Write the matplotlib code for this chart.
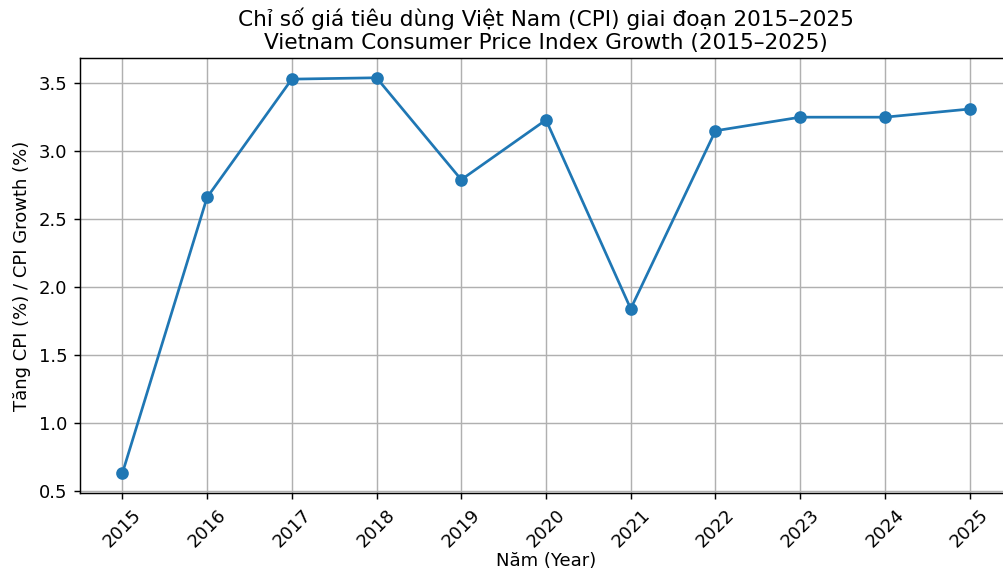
import numpy as np
import matplotlib.pyplot as plt

# CPI data
years = [2015, 2016, 2017, 2018, 2019, 2020, 2021, 2022, 2023, 2024, 2025]
cpi = [0.63, 2.66, 3.53, 3.54, 2.79, 3.23, 1.84, 3.15, 3.25, 3.25, 3.31]

# reference looks like a ~1.3x upscale of a default-styled figure
scale = 1.3
fig = plt.figure(figsize=(1004/100/scale, 573/100/scale), dpi=100*scale)
ax = fig.add_axes([80/1004, 1 - 493/573, 932/1004, 435/573])

ax.plot(years, cpi, marker='o', linestyle='-')
ax.set_title('Chỉ số giá tiêu dùng Việt Nam (CPI) giai đoạn 2015–2025\n'
             'Vietnam Consumer Price Index Growth (2015–2025)', pad=5)
ax.set_xlabel('Năm (Year)', labelpad=0.5)
ax.set_ylabel('Tăng CPI (%) / CPI Growth (%)')
ax.set_xticks(years)
ax.set_xticklabels([str(y) for y in years], rotation=45)
ax.grid(True)

fig.savefig('out.png', dpi=100*scale)
